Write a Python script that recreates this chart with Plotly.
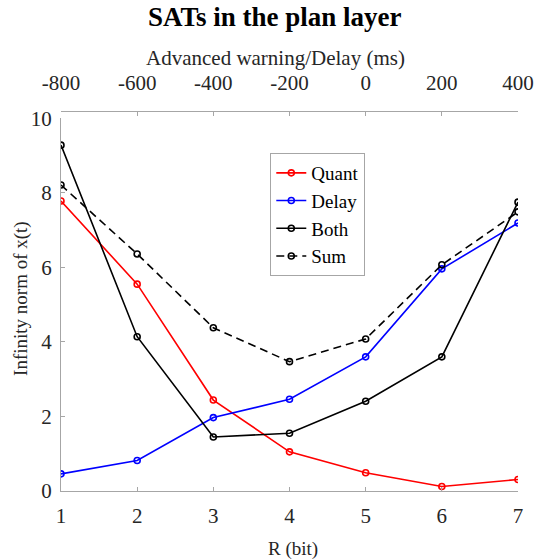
import plotly.graph_objects as go

R_bits = [1, 2, 3, 4, 5, 6, 7]
top_ticks = [-800, -600, -400, -200, 0, 200, 400]
quant = [7.78, 5.55, 2.44, 1.05, 0.49, 0.12, 0.31]
delay = [0.46, 0.82, 1.97, 2.46, 3.60, 5.96, 7.19]
both = [9.28, 4.14, 1.45, 1.55, 2.41, 3.60, 7.75]
sum_qd = [8.21, 6.36, 4.38, 3.47, 4.08, 6.07, 7.49]

FONT = "Liberation Serif"
AX = "#a6a6a6"
TXT = "#262626"

W, H = 546, 559
L, Rm, T, B = 61.3, 13.7, 111, 68
pw, ph = W - L - Rm, H - T - B
def px(x): return (x - L) / pw
def py(y): return (H - B - y) / ph

fig = go.Figure()
series = [("Quant", quant, "#ff0000", "solid"),
          ("Delay", delay, "#0000ff", "solid"),
          ("Both", both, "#000000", "solid"),
          ("Sum", sum_qd, "#000000", "dash")]
for name, vals, col, dash in series:
    fig.add_trace(go.Scatter(
        x=R_bits, y=vals, name=name, mode="lines+markers",
        line=dict(color=col, width=1.6, dash="8px,5px" if dash == "dash" else "solid"),
        marker=dict(symbol="circle-open", size=6, color=col, line=dict(width=1.6, color=col)),
    ))
# invisible trace on top axis
fig.add_trace(go.Scatter(x=top_ticks, y=[None]*len(top_ticks), xaxis="x2",
                         showlegend=False, hoverinfo="skip", mode="markers"))

ydom_top = (H - B - 118.3) / ph
fig.update_layout(
    width=W, height=H,
    margin=dict(l=L, r=Rm, t=T, b=B, pad=0),
    plot_bgcolor="white", paper_bgcolor="white",
    font=dict(family=FONT, color=TXT),
    showlegend=True,
    legend=dict(x=px(277), y=py(153), xanchor="left", yanchor="top",
                bordercolor=AX, borderwidth=1, bgcolor="white",
                font=dict(family=FONT, size=19, color="#000000"),
                itemwidth=30, tracegroupgap=0),
    xaxis=dict(range=[1, 7], tickvals=R_bits, ticks="inside", ticklen=4, tickcolor=AX,
               showline=True, linecolor=AX, linewidth=1, showgrid=False, zeroline=False,
               tickfont=dict(family=FONT, size=21, color=TXT), ticklabelstandoff=6),
    xaxis2=dict(range=[-800, 400], tickvals=top_ticks, ticktext=[str(t) for t in top_ticks],
                overlaying="x", side="top", anchor="free", position=1,
                ticks="inside", ticklen=4, tickcolor=AX,
                showline=True, linecolor=AX, linewidth=1, showgrid=False, zeroline=False,
                tickfont=dict(family=FONT, size=21, color=TXT), ticklabelstandoff=13),
    yaxis=dict(range=[0, 10], domain=[0, ydom_top], tickvals=[0, 2, 4, 6, 8, 10],
               ticks="inside", ticklen=4, tickcolor=AX,
               showline=True, linecolor=AX, linewidth=1, showgrid=False, zeroline=False,
               tickfont=dict(family=FONT, size=21, color=TXT), ticklabelstandoff=4),
    annotations=[
        dict(text="<b>SATs in the plan layer</b>", x=px(281.7), y=py(17), xref="paper", yref="paper",
             showarrow=False, font=dict(family=FONT, size=27, color="#000000"),
             xanchor="center", yanchor="middle"),
        dict(text="Advanced warning/Delay (ms)", x=px(282.5), y=py(58), xref="paper", yref="paper",
             showarrow=False, font=dict(family=FONT, size=21, color=TXT),
             xanchor="center", yanchor="middle"),
        dict(text="R (bit)", x=px(300.8), y=py(549), xref="paper", yref="paper",
             showarrow=False, font=dict(family=FONT, size=19, color=TXT),
             xanchor="center", yanchor="middle"),
        dict(text="Infinity norm of x(t)", x=px(20), y=py(298), xref="paper", yref="paper",
             showarrow=False, textangle=-90, font=dict(family=FONT, size=19, color=TXT),
             xanchor="center", yanchor="middle"),
    ],
)
fig.write_html("out.html")
